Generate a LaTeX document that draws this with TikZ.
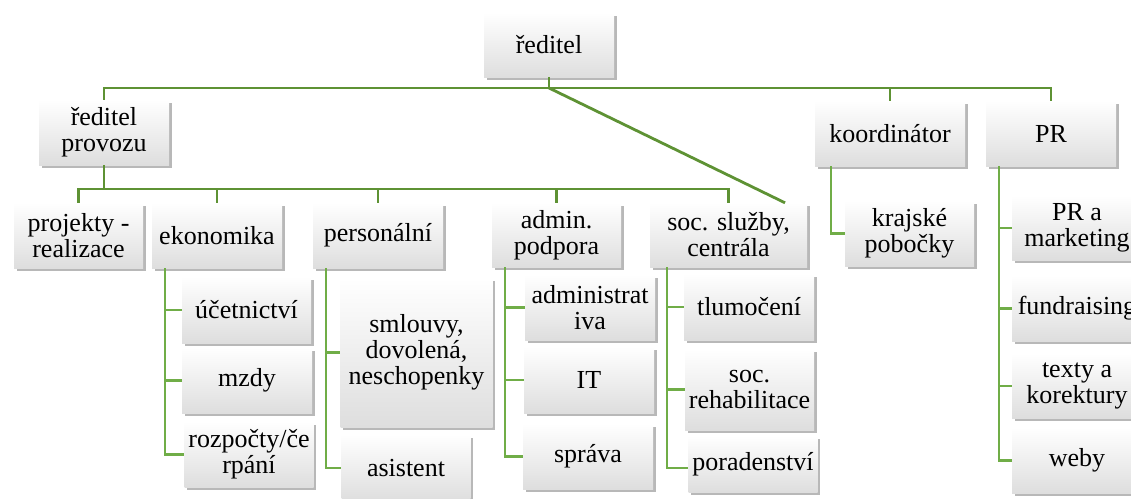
\documentclass[tikz,border=0pt]{standalone}
\usepackage{fontspec}
\setmainfont{Liberation Serif}
\usetikzlibrary{shadows}
\definecolor{mainline}{RGB}{94,146,52}
\definecolor{subline}{RGB}{112,173,71}
\tikzset{
  orgbox/.style={rectangle, inner sep=0pt, align=center, top color=white, bottom color=black!13,
    font=\fontsize{26}{26}\selectfont,
    drop shadow={shadow xshift=2.5pt, shadow yshift=-3pt, fill=black, opacity=0.28}},
  mainconn/.style={draw=mainline, line width=2.8pt},
  subconn/.style={draw=subline, line width=2.8pt},
}
\begin{document}
\begin{tikzpicture}[x=1pt,y=-1pt]
\path[use as bounding box, clip] (0,0) rectangle (1131,498);
% level 0/1
\node[orgbox, minimum width=130pt, minimum height=64pt] (root) at (549,45) {ředitel};
\node[orgbox, minimum width=130pt, minimum height=65pt] (prov) at (104,132.5) {ředitel\\provozu};
\node[orgbox, minimum width=150pt, minimum height=65pt] (koord) at (890,133.5) {koordinátor};
\node[orgbox, minimum width=130pt, minimum height=65pt] (pr) at (1051,133.5) {PR};
% level 2
\node[orgbox, minimum width=129pt, minimum height=65pt] (proj) at (78.5,235.5) {projekty -\\realizace};
\node[orgbox, minimum width=130pt, minimum height=65pt] (ekon) at (217,235.5) {ekonomika};
\node[orgbox, minimum width=130pt, minimum height=65pt] (pers) at (378,235.5) {personální};
\node[orgbox, minimum width=129pt, minimum height=64pt] (admin) at (556.5,235) {admin.\\podpora};
\node[orgbox, minimum width=157pt, minimum height=64pt] (soc) at (728.5,235) {soc. služby,\\centrála};
\node[orgbox, minimum width=129pt, minimum height=65pt] (kraj) at (909.5,233.5) {krajské\\pobočky};
\node[orgbox, minimum width=130pt, minimum height=64pt] (prm) at (1077,228) {PR a\\marketing};
\node[orgbox, minimum width=130pt, minimum height=65pt] (fund) at (1077,308.5) {fundraising};
\node[orgbox, minimum width=130pt, minimum height=64pt] (texty) at (1077,386) {texty a\\korektury};
\node[orgbox, minimum width=130pt, minimum height=65pt] (weby) at (1077,460.5) {weby};
% ekonomika children
\node[orgbox, minimum width=129pt, minimum height=66pt] (ucet) at (246.5,310) {účetnictví};
\node[orgbox, minimum width=130pt, minimum height=65pt] (mzdy) at (247,380.5) {mzdy};
\node[orgbox, minimum width=129pt, minimum height=65pt] (rozp) at (249,454.5) {rozpočty/če\\rpání};
% personalni children
\node[orgbox, minimum width=152pt, minimum height=149pt] (smlouvy) at (416.5,352.5) {smlouvy,\\dovolená,\\neschopenky};
\node[orgbox, minimum width=129pt, minimum height=66pt] (asist) at (406,468) {asistent};
% admin children
\node[orgbox, minimum width=130pt, minimum height=65pt] (adminv) at (590,307.5) {administrat\\iva};
\node[orgbox, minimum width=130pt, minimum height=66pt] (it) at (589,380) {IT};
\node[orgbox, minimum width=130pt, minimum height=65pt] (sprava) at (588,456.5) {správa};
% soc children
\node[orgbox, minimum width=130pt, minimum height=66pt] (tlum) at (749,307) {tlumočení};
\node[orgbox, minimum width=129pt, minimum height=81pt] (rehab) at (749.5,389.5) {soc.\\rehabilitace};
\node[orgbox, minimum width=129pt, minimum height=56pt] (porad) at (753,464) {poradenství};

% top-level connectors
\coordinate (bus1) at (549,88);
\draw[mainconn] (root.south) -- (bus1);
\draw[mainconn] (prov.north) |- (bus1);
\draw[mainconn] (bus1) -| (koord.north);
\draw[mainconn] (bus1) -| (pr.north);
\draw[mainconn] (bus1) -- ([xshift=56.5pt]soc.north);
% second-level bus
\coordinate (bus2) at (104,189);
\draw[mainconn] (prov.south) -- (bus2);
\draw[mainconn] (proj.north) |- (bus2);
\draw[mainconn] (bus2) -| (ekon.north);
\draw[mainconn] (bus2) -| (pers.north);
\draw[mainconn] (bus2) -| (admin.north);
\draw[mainconn] (bus2) -| (soc.north);
% ekonomika
\coordinate (ev) at ([xshift=-52pt]ekon.south);
\draw[subconn] (ev) |- (ucet.west);
\draw[subconn] (ev) |- (mzdy.west);
\draw[subconn] (ev) |- (rozp.west);
% personalni
\coordinate (pv) at ([xshift=-52pt]pers.south);
\draw[subconn] (pv) |- (smlouvy.west);
\draw[subconn] (pv) |- (asist.west);
% admin
\coordinate (av) at ([xshift=-51.5pt]admin.south);
\draw[subconn] (av) |- (adminv.west);
\draw[subconn] (av) |- (it.west);
\draw[subconn] (av) |- (sprava.west);
% soc
\coordinate (sv) at ([xshift=-61.5pt]soc.south);
\draw[subconn] (sv) |- (tlum.west);
\draw[subconn] (sv) |- (rehab.west);
\draw[subconn] (sv) |- ([yshift=-4pt]porad.west);
% koordinator
\coordinate (kv) at ([xshift=-59pt]koord.south);
\draw[subconn] (kv) |- (kraj.west);
% PR
\coordinate (rv) at ([xshift=-52pt]pr.south);
\draw[subconn] (rv) |- (prm.west);
\draw[subconn] (rv) |- (fund.west);
\draw[subconn] (rv) |- (texty.west);
\draw[subconn] (rv) |- (weby.west);
\end{tikzpicture}
\end{document}
